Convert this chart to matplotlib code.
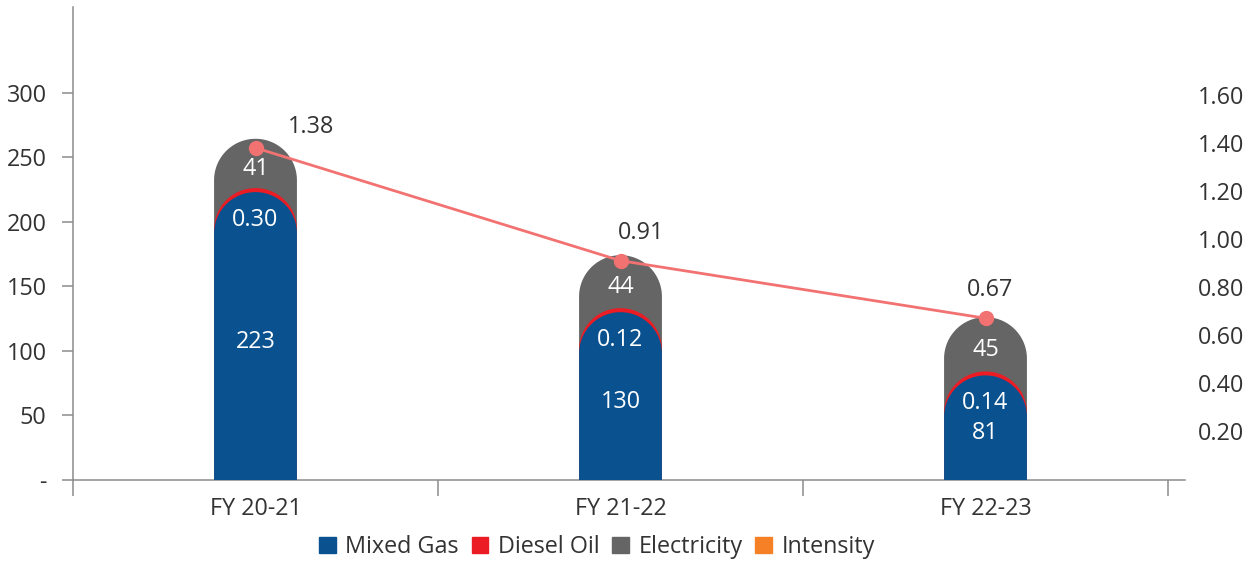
import numpy as np
import matplotlib
matplotlib.use("Agg")
import matplotlib.pyplot as plt
from matplotlib.patches import Polygon, Patch

# ---- data ----
categories = ["FY 20-21", "FY 21-22", "FY 22-23"]
mixed_gas = [223, 130, 81]
diesel_oil = [0.30, 0.12, 0.14]
electricity = [41, 44, 45]
intensity = [1.38, 0.91, 0.67]
left_ticks = [0, 50, 100, 150, 200, 250, 300]
left_tick_labels = ["-", "50", "100", "150", "200", "250", "300"]
right_ticks = [0.20, 0.40, 0.60, 0.80, 1.00, 1.20, 1.40, 1.60]

# ---- style ----
C_BLUE = "#0A528F"
C_RED = "#EC1C24"
C_GRAY = "#656565"
C_LINE = "#F27272"
C_ORANGE = "#F58025"
C_TEXT = "#333333"
C_AXIS = "#8C8C8C"
FONT = "Open Sans"
FS = 16.8

plt.rcParams["font.family"] = [FONT, "DejaVu Sans"]

W, H = 1254, 563
fig = plt.figure(figsize=(W / 100, H / 100), dpi=100)
ax = fig.add_axes([73 / W, 1 - 480 / H, (1185 - 73) / W, (480 - 7) / H])

x = np.arange(len(categories))
ax.set_xlim(-0.5, -0.5 + (1185 - 73) / 365)
ax.set_ylim(0, 473 / 1.291)

bar_w = 0.227

fig.canvas.draw()
p0 = ax.transData.transform((0, 0))
p1 = ax.transData.transform((1, 1))
px_x = p1[0] - p0[0]
px_y = p1[1] - p0[1]


def pill(xc, top, color, z):
    rx = bar_w / 2
    ry = rx * px_x / px_y
    t = np.linspace(np.pi, 0, 80)
    arc = np.column_stack([xc + rx * np.cos(t), top - ry + ry * np.sin(t)])
    verts = np.vstack([[xc - rx, 0], arc, [xc + rx, 0]])
    ax.add_patch(Polygon(verts, closed=True, facecolor=color, edgecolor="none", zorder=z))


min_red_px = 4.0
for i in range(len(categories)):
    total = mixed_gas[i] + diesel_oil[i] + electricity[i]
    red_top = mixed_gas[i] + max(diesel_oil[i], min_red_px / px_y)
    pill(x[i], total, C_GRAY, 2)
    pill(x[i], red_top, C_RED, 3)
    pill(x[i], mixed_gas[i], C_BLUE, 4)
    # labels
    ax.annotate(f"{mixed_gas[i]:g}", (x[i], mixed_gas[i] / 2), xytext=(0, -4),
                textcoords="offset points", ha="center", va="center",
                color="white", fontsize=FS, zorder=6)
    ax.annotate(f"{diesel_oil[i]:.2f}", (x[i], mixed_gas[i]), xytext=(0, -20),
                textcoords="offset points", ha="center", va="center",
                color="white", fontsize=FS, zorder=6)
    ax.annotate(f"{electricity[i]:g}", (x[i], mixed_gas[i] + diesel_oil[i] + electricity[i] / 2),
                xytext=(0, -2.5), textcoords="offset points",
                ha="center", va="center", color="white", fontsize=FS, zorder=6)

# axes styling
for s in ["top", "right"]:
    ax.spines[s].set_visible(False)
for s in ["left", "bottom"]:
    ax.spines[s].set_color(C_AXIS)
    ax.spines[s].set_linewidth(1.1)

ax.set_yticks(left_ticks)
ax.set_yticklabels(left_tick_labels)
ax.tick_params(axis="y", length=8, width=1.1, color=C_AXIS, pad=11, labelsize=FS, labelcolor=C_TEXT)

ax.set_xticks(x)
ax.set_xticklabels(categories)
ax.set_xticks([-0.5, 0.5, 1.5, 2.5], minor=True)
ax.tick_params(axis="x", which="major", length=0, pad=12, labelsize=FS, labelcolor=C_TEXT)
ax.tick_params(axis="x", which="minor", length=11.5, width=1.1, color=C_AXIS)

# secondary axis
ax2 = ax.twinx()
ax2.set_ylim(-0.004, 1.967)
for s in ax2.spines.values():
    s.set_visible(False)
ax2.set_yticks(right_ticks)
ax2.set_yticklabels([f"{v:.2f}" for v in right_ticks])
ax2.tick_params(axis="y", length=0, pad=9, labelsize=FS, labelcolor=C_TEXT)
ax2.plot(x, intensity, color=C_LINE, lw=2, marker="o", markersize=10, zorder=5)
label_dx = [40, 15, 3]
label_dy = [15, 20, 20]
for i, v in enumerate(intensity):
    ax2.annotate(f"{v:.2f}", (x[i], v), xytext=(label_dx[i], label_dy[i]), textcoords="offset points",
                 ha="center", va="center", color=C_TEXT, fontsize=FS)

handles = [Patch(color=C_BLUE, label="Mixed Gas"), Patch(color=C_RED, label="Diesel Oil"),
           Patch(color=C_GRAY, label="Electricity"), Patch(color=C_ORANGE, label="Intensity")]
fig.legend(handles=handles, loc="center", bbox_to_anchor=(597 / W, 1 - 547 / H), ncol=4,
           frameon=False, fontsize=FS, handlelength=0.72, handleheight=0.72,
           handletextpad=0.4, columnspacing=0.55, labelcolor=C_TEXT)

fig.savefig("out.png", dpi=100)
